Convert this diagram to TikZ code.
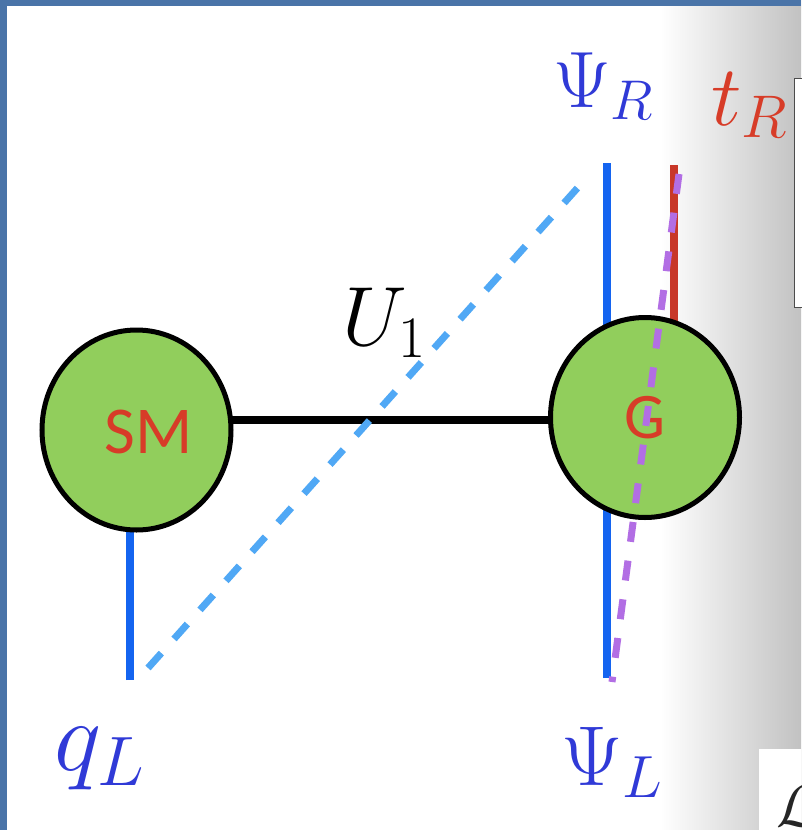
\RequirePackage{fix-cm}
\documentclass[tikz,border=0pt]{standalone}
\usepackage[no-math]{fontspec}
\newfontfamily\calib{Carlito}
\usetikzlibrary{backgrounds,shapes.geometric}
\definecolor{frameblue}{RGB}{74,116,168}
\definecolor{txtblue}{RGB}{48,58,215}
\definecolor{lineblue}{RGB}{20,100,240}
\definecolor{dashblue}{RGB}{80,168,245}
\definecolor{dashpurple}{RGB}{178,110,228}
\definecolor{linered}{RGB}{200,55,40}
\definecolor{txtred}{RGB}{215,60,40}
\definecolor{ballgreen}{RGB}{145,206,92}
\tikzset{
  ball/.style={ellipse, draw=black, line width=5pt, fill=ballgreen,
    minimum width=189pt, minimum height=200pt, inner sep=0pt},
  leg/.style={line width=8.5pt, lineblue},
  dashleg/.style={line width=7pt, dash pattern=on 20pt off 19pt},
  mathlbl/.style={inner sep=0pt, anchor=base west},
}
\begin{document}
\begin{tikzpicture}[x=1pt,y=-1pt]
\useasboundingbox (0,0) rectangle (801,830);
% page decorations
\begin{scope}[on background layer]
  \fill[white] (0,0) rectangle (801,830);
  \shade[left color=white, right color=gray!48] (660,0) rectangle (801,830);
  \fill[frameblue] (0,0) rectangle (801,6);
  \fill[frameblue] (0,0) rectangle (7,830);
  \draw[fill=white, draw=gray!60!black, line width=1pt] (794,78) rectangle (806,307);
  \fill[white] (759,749) rectangle (801,830);
\end{scope}
% coordinates
\coordinate (qlend) at (130,680);
\coordinate (psirtop) at (607,163);
\coordinate (trtop) at (674,165);
\coordinate (psilend) at (607,678);
\coordinate (uline) at (0,420);
\coordinate (bluea) at (148,668);
\coordinate (blueb) at (590,174);
\coordinate (purpa) at (679,174);
\coordinate (purpb) at (612,682);
% blobs
\node[ball] (sm) at (136.5,430) {};
\node[ball, text=txtred, font=\calib\fontsize{65}{70}\selectfont] (g) at (645,417.5) {G};
\node[text=txtred, font=\calib\fontsize{67}{70}\selectfont, inner sep=0pt] (smtxt) at (149,432) {SM};
% solid legs under the blobs
\begin{scope}[on background layer]
  \draw[line width=8pt, black] (sm.center |- uline) -- (g.center |- uline);
  \draw[leg] (qlend) -- (qlend |- sm.center);
  \draw[leg] (psirtop) -- (psirtop |- g.center);
  \draw[leg] (psilend) -- (psilend |- g.center);
  \draw[line width=8.5pt, linered] (trtop) -- (trtop |- g.center);
\end{scope}
% labels
\node[mathlbl, text=txtblue, font=\fontsize{80}{90}\selectfont] (psir) at (553,107) {$\Psi_R$};
\node[mathlbl, text=txtred, font=\fontsize{86}{90}\selectfont] (tr) at (711,125) {$t_R$};
\node[mathlbl, text=black, font=\fontsize{84}{90}\selectfont] (u1) at (342,345) {$U_1$};
\node[mathlbl, text=txtblue, font=\fontsize{85}{90}\selectfont] (psil) at (561,785) {$\Psi_L$};
\node[mathlbl, text=txtblue, font=\fontsize{100}{110}\selectfont] (ql) at (54,770) {$q_L$};
\node[mathlbl, text=black!85, font=\fontsize{60}{70}\selectfont] (lag) at (776,826) {$\mathcal{L}$};
% dashed lines
\draw[dashleg, dashblue] (bluea) -- (blueb);
\draw[dashleg, dashpurple] (purpa) -- (purpb);
\end{tikzpicture}
\end{document}
